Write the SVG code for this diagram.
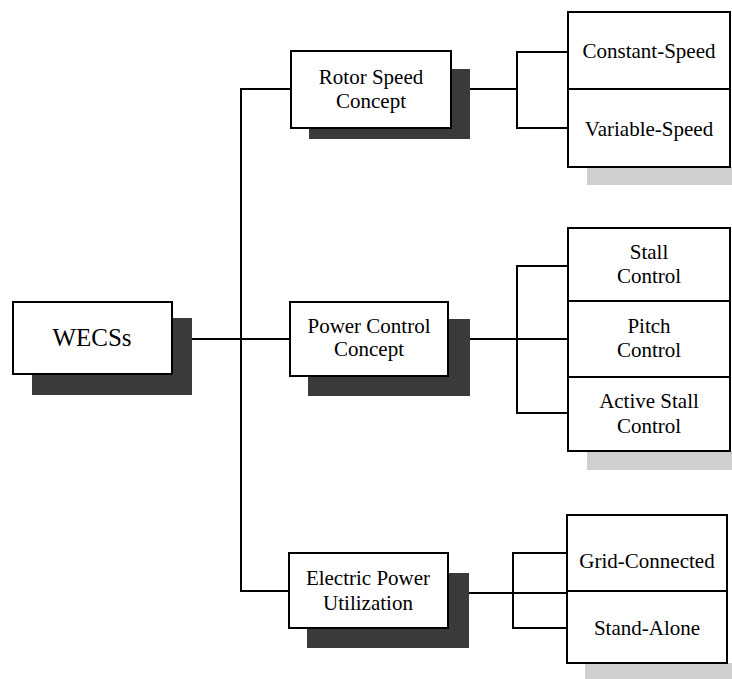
<svg xmlns="http://www.w3.org/2000/svg" width="732" height="679" viewBox="0 0 732 679">
<style>
.box{fill:#fff;stroke:#000;stroke-width:2}
.sd{fill:#3a3a3a}
.sl{fill:#cfcfcf}
.ln{fill:none;stroke:#000;stroke-width:2}
text{font-family:"Liberation Serif","Times New Roman",serif;font-size:21px;fill:#000;text-anchor:middle}
</style>
<rect width="732" height="679" fill="#fff"/>
<g id="connectors">
<path class="ln" d="M172 339 H290"/>
<path class="ln" d="M291 89 H241 V591 H289"/>
<path class="ln" d="M451 89 H517"/>
<path class="ln" d="M568 52 H517 V128 H568"/>
<path class="ln" d="M448 339 H568"/>
<path class="ln" d="M568 266 H517 V413 H568"/>
<path class="ln" d="M448 593 H567"/>
<path class="ln" d="M567 553 H513 V628 H567"/>
</g>
<g id="wecss">
<rect class="sd" x="32" y="318" width="160" height="77"/>
<rect class="box" x="13" y="302" width="159" height="72"/>
<text x="92" y="346" style="font-size:25px">WECSs</text>
</g>
<g id="rotor-speed">
<rect class="sd" x="309" y="69" width="161" height="70"/>
<rect class="box" x="291" y="51" width="160" height="77"/>
<text x="371" y="84">Rotor Speed</text>
<text x="371" y="108">Concept</text>
</g>
<g id="power-control">
<rect class="sd" x="308" y="319" width="162" height="77"/>
<rect class="box" x="290" y="302" width="158" height="74"/>
<text x="369" y="333">Power Control</text>
<text x="369" y="356">Concept</text>
</g>
<g id="electric-power">
<rect class="sd" x="307" y="573" width="162" height="75"/>
<rect class="box" x="289" y="553" width="159" height="75"/>
<text x="368" y="585">Electric Power</text>
<text x="368" y="610">Utilization</text>
</g>
<g id="speed-types">
<rect class="sl" x="587" y="167" width="145" height="18"/>
<rect class="box" x="568" y="12" width="162" height="77"/>
<rect class="box" x="568" y="89" width="162" height="78"/>
<text x="649" y="58">Constant-Speed</text>
<text x="649" y="136">Variable-Speed</text>
</g>
<g id="control-types">
<rect class="sl" x="587" y="451" width="145" height="19"/>
<rect class="box" x="568" y="228" width="162" height="73"/>
<rect class="box" x="568" y="301" width="162" height="76"/>
<rect class="box" x="568" y="377" width="162" height="74"/>
<text x="649" y="259">Stall</text>
<text x="649" y="283">Control</text>
<text x="649" y="333">Pitch</text>
<text x="649" y="357">Control</text>
<text x="649" y="408">Active Stall</text>
<text x="649" y="433">Control</text>
</g>
<g id="utilization-types">
<rect class="sl" x="585" y="663" width="147" height="16"/>
<rect class="box" x="567" y="515" width="160" height="76"/>
<rect class="box" x="567" y="591" width="160" height="72"/>
<text x="647" y="568">Grid-Connected</text>
<text x="647" y="635">Stand-Alone</text>
</g>
</svg>
